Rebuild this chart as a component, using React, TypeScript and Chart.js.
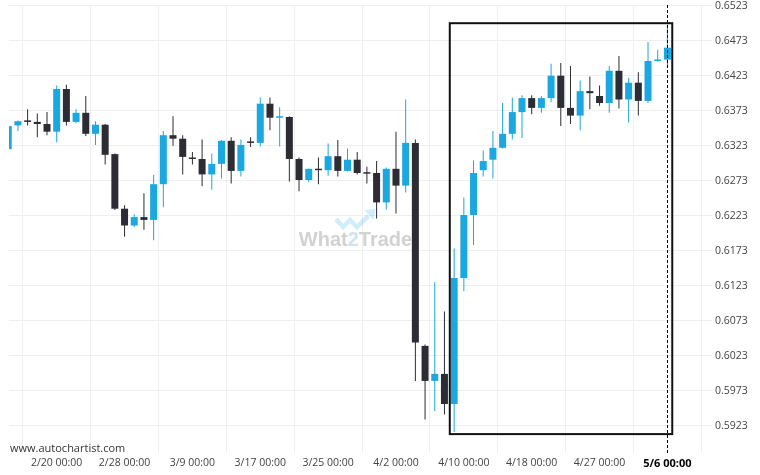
import { useEffect, useRef } from "react";
import { Chart, registerables } from "chart.js";

Chart.register(...registerables);

const opens = [0.6318,0.6352,0.6359,0.6357,0.6354,0.6343,0.6404,0.6357,0.6370,0.6340,
0.6353,0.6311,0.6233,0.6209,0.6221,0.6217,0.6268,0.6338,0.6333,0.6306,
0.6304,0.6282,0.6297,0.6330,0.6287,0.6329,0.6327,0.6383,0.6363,0.6364,
0.6304,0.6274,0.6290,0.6288,0.6308,0.6287,0.6303,0.6285,0.6284,0.6242,
0.6290,0.6266,0.6327,0.6037,0.5987,0.5997,0.5954,0.6134,0.6224,0.6288,
0.6303,0.6320,0.6340,0.6371,0.6391,0.6377,0.6391,0.6423,0.6377,0.6366,
0.6401,0.6394,0.6384,0.6430,0.6389,0.6413,0.6387,0.6444,0.6446];

const highs = [0.6352,0.6359,0.6375,0.6369,0.6371,0.6409,0.6410,0.6375,0.6394,0.6358,
0.6354,0.6312,0.6238,0.6225,0.6255,0.6281,0.6344,0.6365,0.6338,0.6314,
0.6332,0.6312,0.6331,0.6335,0.6332,0.6335,0.6392,0.6392,0.6378,0.6365,
0.6306,0.6290,0.6306,0.6326,0.6331,0.6319,0.6314,0.6293,0.6301,0.6292,
0.6343,0.6389,0.6332,0.6039,0.6128,0.6086,0.6176,0.6249,0.6302,0.6316,
0.6344,0.6384,0.6392,0.6395,0.6395,0.6394,0.6440,0.6441,0.6437,0.6416,
0.6422,0.6409,0.6437,0.6451,0.6420,0.6428,0.6471,0.6460,0.6496];

const lows = [0.6317,0.6344,0.6352,0.6335,0.6338,0.6328,0.6352,0.6355,0.6337,0.6324,
0.6296,0.6231,0.6193,0.6207,0.6203,0.6188,0.6235,0.6323,0.6282,0.6296,
0.6265,0.6260,0.6276,0.6269,0.6279,0.6321,0.6322,0.6345,0.6322,0.6272,
0.6258,0.6271,0.6268,0.6280,0.6279,0.6286,0.6282,0.6269,0.6219,0.6232,
0.6226,0.6256,0.5987,0.5932,0.5944,0.5939,0.5914,0.6115,0.6181,0.6279,
0.6276,0.6319,0.6332,0.6334,0.6368,0.6370,0.6385,0.6351,0.6354,0.6345,
0.6375,0.6380,0.6370,0.6376,0.6356,0.6366,0.6384,0.6443,0.6436];

const closes = [0.6351,0.6358,0.6357,0.6354,0.6343,0.6404,0.6357,0.6370,0.6340,0.6353,
0.6310,0.6233,0.6209,0.6221,0.6217,0.6268,0.6338,0.6333,0.6307,0.6304,
0.6282,0.6297,0.6330,0.6287,0.6324,0.6327,0.6383,0.6363,0.6364,0.6304,
0.6274,0.6290,0.6288,0.6308,0.6287,0.6303,0.6284,0.6283,0.6242,0.6290,
0.6266,0.6327,0.6042,0.5987,0.5997,0.5954,0.6134,0.6224,0.6284,0.6301,
0.6320,0.6340,0.6371,0.6391,0.6377,0.6391,0.6423,0.6377,0.6366,0.6401,
0.6398,0.6384,0.6430,0.6389,0.6413,0.6387,0.6444,0.6446,0.6463];

const tickIndices = [5, 12, 19, 26, 33, 40, 47, 54, 61, 68];
const tickLabels = ["2/20 00:00", "2/28 00:00", "3/9 00:00", "3/17 00:00", "3/25 00:00",
  "4/2 00:00", "4/10 00:00", "4/18 00:00", "4/27 00:00", "5/6 00:00"];
const priceTicks = [0.5923, 0.5973, 0.6023, 0.6073, 0.6123, 0.6173, 0.6223, 0.6273,
  0.6323, 0.6373, 0.6423, 0.6473, 0.6523];

const currentIndex = 68;
const boxStart = 45.55;
const boxEnd = 68.5;
const boxHigh = 0.6498;
const boxLow = 0.5911;

const BLUE = "#1ba7df";
const DARK = "#2b2c34";

export default function App() {
  const ref = useRef<HTMLCanvasElement>(null);

  useEffect(() => {
    const canvas = ref.current!;
    const idx = opens.map((_, i) => i);
    const colors = idx.map((i) => (closes[i] >= opens[i] ? BLUE : DARK));

    const overlay = {
      id: "overlay",
      beforeDatasetsDraw(chart: any) {
        const { ctx, chartArea } = chart;
        const cx = (chartArea.left + chartArea.right) / 2;
        const cy = (chartArea.top + chartArea.bottom) / 2;
        ctx.save();
        // icon
        ctx.strokeStyle = "rgba(27,167,223,0.2)";
        ctx.fillStyle = "rgba(27,167,223,0.2)";
        ctx.lineWidth = 4.5;
        ctx.lineJoin = "miter";
        ctx.beginPath();
        ctx.moveTo(cx - 24.5, cy - 10);
        ctx.lineTo(cx - 17.5, cy - 2);
        ctx.lineTo(cx - 10.5, cy - 9);
        ctx.lineTo(cx - 3.5, cy - 2);
        ctx.lineTo(cx + 8, cy - 13);
        ctx.stroke();
        ctx.beginPath();
        ctx.moveTo(cx + 4, cy - 19);
        ctx.lineTo(cx + 15, cy - 20);
        ctx.lineTo(cx + 13, cy - 9);
        ctx.closePath();
        ctx.fill();
        // text
        ctx.font = 'bold 20px "Liberation Sans", Arial, sans-serif';
        ctx.textBaseline = "alphabetic";
        ctx.textAlign = "left";
        const parts: [string, string][] = [["What", "#d2d2d2"], ["2", "#cfe4f0"], ["Trade", "#d2d2d2"]];
        const total = parts.reduce((a, p) => a + ctx.measureText(p[0]).width, 0);
        let x = cx - 5 - total / 2;
        const y = cy + 16.5;
        for (const [t, c] of parts) {
          ctx.fillStyle = c;
          ctx.fillText(t, x, y);
          x += ctx.measureText(t).width;
        }
        ctx.restore();
      },
      afterDatasetsDraw(chart: any) {
        const { ctx, chartArea, scales } = chart;
        const xs = scales.x, ys = scales.y;
        ctx.save();
        const dx = Math.round(xs.getPixelForValue(currentIndex)) + 0.5;
        ctx.strokeStyle = "#000";
        ctx.lineWidth = 1;
        ctx.setLineDash([3, 2]);
        ctx.beginPath();
        ctx.moveTo(dx, chartArea.top);
        ctx.lineTo(dx, chartArea.bottom);
        ctx.stroke();
        ctx.setLineDash([]);
        const x0 = xs.getPixelForValue(boxStart);
        const x1 = xs.getPixelForValue(boxEnd);
        const y0 = ys.getPixelForValue(boxHigh);
        const y1 = ys.getPixelForValue(boxLow);
        ctx.strokeStyle = "#111";
        ctx.lineWidth = 2;
        ctx.strokeRect(x0, y0, x1 - x0, y1 - y0);
        ctx.restore();
      },
      afterDraw(chart: any) {
        const { ctx, chartArea } = chart;
        ctx.save();
        ctx.font = '11px "Open Sans", sans-serif';
        ctx.fillStyle = "#333";
        ctx.textBaseline = "middle";
        ctx.textAlign = "left";
        ctx.fillText("www.autochartist.com", chartArea.left + 1, chartArea.bottom - 4);
        ctx.restore();
      },
    };

    const chart = new Chart(canvas, {
      type: "bar",
      data: {
        datasets: [
          {
            data: idx.map((i) => ({ x: i, y: [lows[i], highs[i]] })) as any,
            backgroundColor: colors,
            barThickness: 1,
            grouped: false,
            order: 2,
            inflateAmount: 0,
          } as any,
          {
            data: idx.map((i) => ({ x: i, y: [opens[i], closes[i]] })) as any,
            backgroundColor: colors,
            barThickness: 7,
            grouped: false,
            order: 1,
            minBarLength: 1.5,
            inflateAmount: 0,
          } as any,
        ],
      },
      options: {
        responsive: false,
        animation: false,
        devicePixelRatio: 1,
        layout: { padding: { left: 9, top: 5, right: 0, bottom: 0 } },
        plugins: {
          legend: { display: false },
          tooltip: { enabled: false },
        },
        scales: {
          x: {
            type: "linear",
            min: 0.08,
            max: 72.6,
            offset: false,
            afterBuildTicks: (s: any) => {
              s.ticks = tickIndices.map((v) => ({ value: v }));
            },
            afterFit: (s: any) => {
              s.height = 22;
              s.paddingLeft = 0;
              s.paddingRight = 0;
            },
            grid: { color: "#efefef", drawTicks: false },
            border: { display: false },
            ticks: {
              autoSkip: false,
              maxRotation: 0,
              padding: 4,
              callback: (v: any) => {
                const k = tickIndices.indexOf(Number(v));
                return k >= 0 ? tickLabels[k] : "";
              },
              color: (c: any) => (c.tick && c.tick.value === currentIndex ? "#000" : "#444"),
              font: (c: any) =>
                c.tick && c.tick.value === currentIndex
                  ? { family: '"Liberation Sans Narrow", "Open Sans", sans-serif', size: 11, weight: "bold" }
                  : { family: '"Open Sans", sans-serif', size: 10.5 },
            },
          } as any,
          y: {
            position: "right",
            min: 0.5884,
            max: 0.6524,
            afterBuildTicks: (s: any) => {
              s.ticks = priceTicks.map((v) => ({ value: v }));
            },
            afterFit: (s: any) => {
              s.width = 48;
              s.paddingTop = 0;
              s.paddingBottom = 0;
            },
            grid: { color: "#efefef", drawTicks: false },
            border: { display: false },
            ticks: {
              padding: 3,
              color: "#444",
              font: { family: '"Open Sans", sans-serif', size: 10.5 },
              callback: (v: any) => Number(v).toFixed(4),
            },
          } as any,
        },
      },
      plugins: [overlay],
    });
    return () => chart.destroy();
  }, []);

  return (
    <canvas
      ref={ref}
      width={760}
      height={475}
      style={{ position: "absolute", left: 0, top: 0, width: 760, height: 475, background: "#fff" }}
    />
  );
}
